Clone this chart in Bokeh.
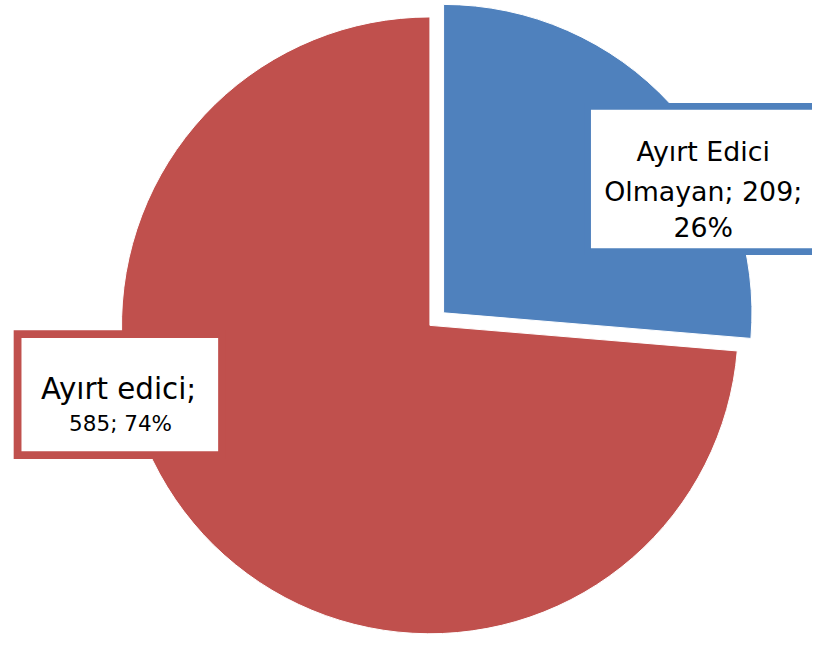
import math
from bokeh.plotting import figure
from bokeh.models import Range1d, ColumnDataSource
from bokeh.embed import file_html
from bokeh.resources import INLINE
from bokeh.core.properties import value

# ---- data ----
categories = ["Ayırt Edici Olmayan", "Ayırt edici"]
counts = [209, 585]
colors = ["#4F81BD", "#C0504D"]

total = sum(counts)
pcts = [round(100 * c / total) for c in counts]

# ---- layout ----
IMG_W, IMG_H = 832, 655
H = 639
S = H / IMG_H
W = round(IMG_W * S)


def Y(y):
    return IMG_H - y


def fs(px):
    return f"{px * S:.1f}px"


p = figure(width=W, height=H, x_range=Range1d(0, IMG_W), y_range=Range1d(0, IMG_H),
           output_backend="svg", toolbar_location=None, min_border=0)
p.axis.visible = False
p.grid.visible = False
p.outline_line_color = None
p.background_fill_color = "white"
p.border_fill_color = "white"

cx, cy, r = 440, Y(333), 316
explode = [19, 0]

xs, ys, sa, ea = [], [], [], []
start = math.pi / 2
for i, c in enumerate(counts):
    ang = 2 * math.pi * c / total
    end = start
    s = start - ang
    mid = (s + end) / 2
    xs.append(cx + explode[i] * math.cos(mid))
    ys.append(cy + explode[i] * math.sin(mid))
    sa.append(s)
    ea.append(end)
    start = s

src = ColumnDataSource(dict(x=xs, y=ys, start=sa, end=ea, color=colors))
p.wedge(x="x", y="y", radius=r, start_angle="start", end_angle="end",
        fill_color="color", line_color="white", line_width=1, source=src)

# label boxes
p.quad(left=[601.5], right=[880], top=[Y(108.5)], bottom=[Y(257.5)],
       fill_color="white", line_color=colors[0], line_width=7 * S,
       line_join="miter")
p.quad(left=[17.5], right=[227], top=[Y(342)], bottom=[Y(466)],
       fill_color="white", line_color=colors[1], line_width=8 * S,
       line_join="miter")

font = value("DejaVu Sans")

# blue label
w = categories[0].split()
blue_lines = [" ".join(w[:2]), f"{w[2]}; {counts[0]};", f"{pcts[0]}%"]
p.text(x=[720] * 3, y=[Y(155), Y(196), Y(233)], text=blue_lines,
       text_font=font, text_font_size=fs(27.5), text_color="black",
       text_align="center", text_baseline="alphabetic")

# red label
p.text(x=[121], y=[Y(398)], text=[f"{categories[1]};"],
       text_font=font, text_font_size=fs(30), text_color="black",
       text_align="center", text_baseline="alphabetic")
p.text(x=[123], y=[Y(434)], text=[f"{counts[1]}; {pcts[1]}%"],
       text_font=font, text_font_size=fs(22), text_color="black",
       text_align="center", text_baseline="alphabetic")

open("out.html", "w").write(file_html(p, INLINE))
